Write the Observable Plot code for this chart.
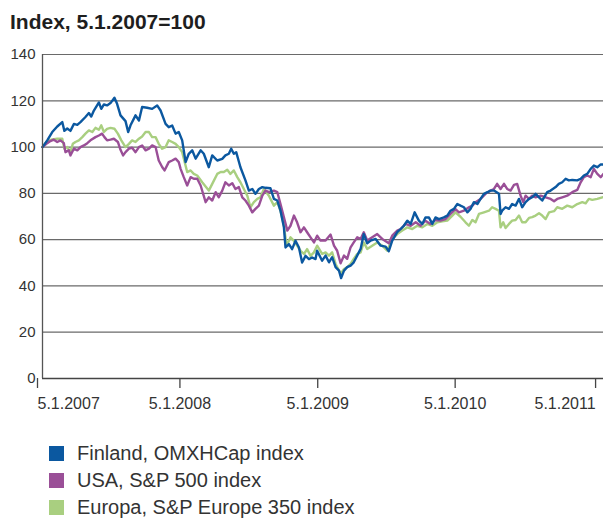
<!DOCTYPE html>
<html>
<head>
<meta charset="utf-8">
<script src="https://cdn.jsdelivr.net/npm/d3@7"></script>
<script src="https://cdn.jsdelivr.net/npm/@observablehq/plot@0.6"></script>
<style>
  html, body { margin: 0; padding: 0; background: #fff; overflow: hidden; }
  body { width: 603px; height: 518px; font-family: "Liberation Sans", Arial, Helvetica, sans-serif; color: #222; }
  #title { height: 40px; box-sizing: border-box; padding: 11px 0 0 10px; font-size: 21px; line-height: 1; font-weight: bold; color: #1e1e1e; }
  #chart svg { display: block; }
  #legend { padding: 20px 0 0 49px; }
  .row { display: flex; align-items: center; height: 27px; font-size: 20px; line-height: 27px; color: #333; }
  .sw { width: 15px; height: 15px; margin-right: 13px; flex: none; }
</style>
</head>
<body>
<div id="title">Index, 5.1.2007=100</div>
<div id="chart"></div>
<div id="legend"></div>
<script>
// Series names and colours
const seriesNames = ["Finland, OMXHCap index", "USA, S&P 500 index", "Europa, S&P Europe 350 index"];
const seriesColors = ["#0b58a0", "#9a4f97", "#a9cf80"];

// Time in weeks since 5.1.2007 and index values
const finlandWeeks = [0,1.8,3.7,5.6,7.5,8.3,9.4,10.6,11.9,13.2,14.4,16.3,17.6,18.5,19.5,21.4,22.3,23.3,24.5,25.8,27.3,28.3,29.6,31.5,32.5,33.4,35.3,36.6,37.8,39.7,41.6,43.5,44.8,46.7,47.9,49.2,50.5,51.7,53.0,54.3,55.5,56.8,58.1,60.0,61.2,63.1,64.4,66.3,68.2,69.4,70.7,71.6,72.6,73.5,75.1,77.0,78.3,79.6,80.8,82.1,83.4,84.6,86.5,87.8,89.1,90.3,91.6,92.2,93.5,94.7,96.0,97.3,98.5,99.8,101.1,102.3,103.6,104.2,106.1,107.4,108.7,109.9,111.2,112.5,113.3,114.4,115.6,116.9,118.1,119.4,120.7,121.9,123.2,124.5,126.4,128.3,130.2,131.4,132.7,134.6,135.9,137.1,138.4,139.7,141.2,142.8,144.1,145.3,146.6,147.9,149.1,150.4,152.3,153.6,154.8,156.1,157.4,158.6,159.9,161.2,162.4,163.7,165.0,166.2,167.5,168.8,170.0,171.3,173.2,173.8,174.4,175.7,177.0,178.2,179.5,180.8,182.0,183.3,184.6,185.8,187.1,188.4,189.6,191.5,192.8,194.7,195.9,197.2,198.5,199.7,201.0,202.9,204.2,205.4,206.7,208.0,209.2,210.5,211.8,212.8];
const finlandValues = [100,102.9,106.5,108.9,110.8,107,108,107,110,109.6,110.8,113,114.7,113.2,115.8,119.3,116.5,118.4,118,119,121.3,118.7,113.7,111.2,106.5,109.4,113.7,111.5,117.3,117,116.5,118,115.8,110,108.6,109.3,105.8,106.5,102.9,93.5,97.1,98.6,95,98.6,97.1,91.3,96.4,94.2,94.9,96.4,97.1,99.3,97.1,97.8,91.3,85.6,81.2,81.9,79.8,81.9,82.7,82.4,82.2,77.6,76.9,72.5,65.3,56.6,58.1,55.9,59.5,56.6,50.1,53,51.6,52.3,51.6,55.2,50.9,53.1,50.2,52.4,48.1,46.6,43.4,46.6,48.1,48.8,50.2,53.1,56,62.4,58.4,59.6,60.3,57.4,57,55,59.6,63.2,64.6,66,68.2,66.8,71.8,68.2,66.8,69.6,69.6,66.8,69.6,68.9,69.6,70.4,72.5,73.3,75.4,74.7,74,71.8,73.3,76.2,75.4,77.6,79.8,80.5,81.2,81.2,79.8,71.1,72.5,74,73.3,75.4,74.7,77.6,74,76.2,77.6,78.3,79.8,78.3,76.9,80.5,81.2,82.7,84.1,84.8,86.3,85.6,85.8,85.6,86.3,87.7,88.4,90.6,92,91.3,92.5,92.5];

const usaWeeks = [0,1.8,3.0,4.3,5.6,6.8,8.1,8.7,10.0,10.6,11.9,13.2,14.4,15.7,17.0,18.2,20.1,21.4,22.6,23.5,24.5,25.8,27.1,28.6,29.6,30.6,31.5,32.8,34.0,35.3,36.6,37.8,39.1,40.4,41.6,42.9,44.1,45.4,46.3,47.9,49.2,50.5,51.7,52.4,53.6,54.9,56.2,57.4,58.7,60.0,61.9,63.1,64.4,65.7,66.9,68.2,69.4,70.7,72.0,73.2,74.5,75.8,77.0,78.3,79.6,80.8,82.1,83.4,84.6,85.9,87.8,89.1,90.3,91.6,92.9,94.1,95.4,96.6,97.9,99.2,100.4,101.7,103.0,104.2,105.5,107.4,109.3,110.6,111.8,113.1,114.4,115.6,116.9,118.1,119.4,120.7,121.9,123.2,125.1,127.0,128.9,131.4,132.7,134.6,135.9,137.8,139.7,141.6,143.5,145.3,147.2,149.1,151.0,152.9,154.8,156.7,158.0,159.9,161.8,163.1,164.3,166.2,168.1,170.0,171.3,172.5,173.8,175.1,176.3,177.6,178.9,180.1,181.4,182.4,183.3,184.6,185.8,187.1,189.0,190.9,192.8,194.1,195.3,197.2,199.1,201.0,202.9,204.2,205.4,206.7,208.0,209.2,210.5,211.8,212.8];
const usaValues = [100,101.7,102.6,103.2,102.2,102.9,101.7,97.8,98.6,96.4,99.3,98.6,100,100.7,101.7,102.9,104.3,105,105.8,104.3,102.9,103.2,103.6,102.2,98.8,96.4,97.8,99.3,99.7,97.8,100,100.7,98.6,99.3,100.7,100,94.2,91.4,89.9,93.5,94.2,95,93.5,90.6,87,83.4,87,86.3,86.3,83.4,76.2,78.3,76.9,80.5,78.3,81.2,84.8,83.4,84.4,81.9,82.7,78.3,76.9,74.7,71.8,73.3,74.7,79,81.2,80.5,81.2,80.5,75.4,69.7,63.9,66,70.4,67.5,63.2,65.3,63.2,61,58.8,61.7,59.6,59.6,62.2,57.4,55.2,49.8,53.1,51.7,56.7,58.8,61,60.3,63.2,59.6,61,62.4,60.3,58.4,61.7,63.9,64.6,66.8,66,67.5,66,68.2,66.8,68.5,68.2,68.9,71.1,73.2,71.8,72.5,74,74.7,76.2,77.6,79.8,81.2,81.9,84.1,81.9,84.1,81.9,81.2,83.7,84.1,79,76.2,79,77.6,79,78.3,79,78.3,77.6,76.6,77.6,78.3,79,80.5,81.5,84.8,87,87.7,87,90.6,88.4,87,88.4];

const europeWeeks = [0,1.8,3.7,5.6,7.5,8.3,9.4,10.6,11.5,12.5,13.8,15.1,16.3,17.6,18.9,20.1,21.4,22.3,23.3,24.5,25.8,27.3,28.6,29.9,31.5,32.8,34.0,35.3,36.6,37.8,39.1,40.4,41.6,42.9,44.1,45.4,46.7,47.9,49.2,50.5,51.7,53.0,54.9,56.2,57.4,58.7,60.6,63.1,64.4,66.3,67.6,68.8,70.1,71.3,72.6,73.9,75.1,76.4,77.7,78.9,80.2,81.5,82.7,84.0,85.9,87.8,89.1,90.3,91.6,92.6,94.1,95.4,96.6,97.9,99.2,100.4,101.7,103.0,104.2,106.1,107.4,108.7,109.9,111.2,112.5,113.3,114.4,115.6,116.9,118.1,119.4,120.7,121.9,123.2,125.1,127.0,128.9,130.8,132.7,134.6,136.5,138.4,140.3,142.2,144.1,146.0,147.9,149.8,151.7,153.6,155.5,156.7,158.6,160.5,161.8,163.1,164.3,165.6,167.5,169.4,170.6,171.9,173.2,173.8,174.8,175.7,177.0,178.2,179.5,180.8,182.0,183.3,184.6,185.8,187.1,188.4,189.6,190.9,192.2,194.1,195.3,197.2,199.1,201.0,202.9,204.8,206.1,207.3,208.6,210.5,212.4];
const europeValues = [100,102.6,103.3,103.6,103.6,99.3,100,97.8,101.4,102.2,102.9,104.3,105.8,107.2,106.5,108.3,107.5,109.4,106.5,107.9,108.3,107.9,105.8,102.9,100,101.4,102.9,102.2,103.6,104.6,106.5,106.5,104.3,104.3,101.4,99.3,100,102.9,102.2,101.4,100,97.8,89.2,89.9,88.4,87.7,84.8,81.2,84.1,88.4,89.2,89.2,90.2,88.4,89.9,87,84.8,81.9,79,74,76.2,77.6,78.3,81.9,79,74.7,76.2,72.5,66,57.4,61,59.5,57.4,55.2,53.8,55.9,53,54.5,57.4,53.8,54.5,53.1,54.5,49.5,46.6,45.5,47.3,48.1,49.5,51.7,53.8,54.5,58.8,56,57.4,58.8,57.4,55.2,60.3,62.4,63.9,65.3,64.6,66,65.3,66.8,66,67.5,67.9,68.2,70.4,71.8,69.9,67.5,66,68.5,67.5,71.1,71.8,72.5,74,73.3,72.5,65.3,67.5,65,66.8,68.2,68.5,70.4,67.5,67.5,69.4,69.7,70.4,71.4,70.4,68.9,71.8,72.3,74,73.3,74.7,74,75.4,76.2,75.7,77.6,77.2,77.6,78.3];

// Axis settings
const xStart = "2007-01-05";
const xEnd = "2011-02-03";
const xTickDates = ["2007-01-05", "2008-01-05", "2009-01-05", "2010-01-05", "2011-01-05"];
const xTickLabels = ["5.1.2007", "5.1.2008", "5.1.2009", "5.1.2010", "5.1.2011"];
const yTicks = [0, 20, 40, 60, 80, 100, 120, 140];

const parse = s => new Date(s + "T00:00:00Z");
const t0 = parse(xStart).getTime();
const toDate = w => new Date(t0 + w * 7 * 864e5);

const weeksList = [finlandWeeks, usaWeeks, europeWeeks];
const valuesList = [finlandValues, usaValues, europeValues];
const rows = [];
seriesNames.forEach((name, i) => {
  weeksList[i].forEach((w, j) => rows.push({series: name, date: toDate(w), value: valuesList[i][j]}));
});

const ticks = xTickDates.map(parse);
const fmt = d => xTickLabels[ticks.findIndex(t => t.getTime() === d.getTime())];

const chart = Plot.plot({
  width: 603,
  height: 380,
  marginTop: 14,
  marginBottom: 42,
  marginLeft: 42,
  marginRight: 0,
  style: {fontFamily: '"Liberation Sans", Arial, Helvetica, sans-serif', background: "#fff", color: "#333", overflow: "visible"},
  x: {type: "utc", domain: [parse(xStart), parse(xEnd)]},
  y: {domain: [0, 140]},
  color: {domain: seriesNames, range: seriesColors},
  marks: [
    Plot.ruleY(yTicks.filter(d => d > 0), {stroke: "#6a6a6a", strokeWidth: 1.2}),
    Plot.line(rows.filter(r => r.series === seriesNames[2]), {x: "date", y: "value", stroke: "series", strokeWidth: 2.4, curve: "linear"}),
    Plot.line(rows.filter(r => r.series === seriesNames[1]), {x: "date", y: "value", stroke: "series", strokeWidth: 2.4, curve: "linear"}),
    Plot.line(rows.filter(r => r.series === seriesNames[0]), {x: "date", y: "value", stroke: "series", strokeWidth: 2.4, curve: "linear"}),
    Plot.ruleY([0], {stroke: "#444", strokeWidth: 1.3}),
    Plot.ruleX([parse(xStart)], {y1: 0, y2: 140, stroke: "#555", strokeWidth: 1.3}),
    Plot.axisY(yTicks, {tickSize: 0, tickPadding: 7, fontSize: 15, fill: "#333", label: null}),
    Plot.axisX([ticks[0]], {tickSize: 10, tickPadding: 9, tickFormat: fmt, fontSize: 16, fill: "#333", stroke: "#444", strokeWidth: 1.3, textAnchor: "start", dx: -5, label: null}),
    Plot.axisX(ticks.slice(1, 4), {tickSize: 10, tickPadding: 9, tickFormat: fmt, fontSize: 16, fill: "#333", stroke: "#444", strokeWidth: 1.3, label: null}),
    Plot.axisX([ticks[4]], {tickSize: 10, tickPadding: 9, tickFormat: fmt, fontSize: 16, fill: "#333", stroke: "#444", strokeWidth: 1.3, textAnchor: "end", dx: 3, label: null})
  ]
});
document.getElementById("chart").appendChild(chart);

const legend = document.getElementById("legend");
seriesNames.forEach((name, i) => {
  const row = document.createElement("div");
  row.className = "row";
  const sw = document.createElement("span");
  sw.className = "sw";
  sw.style.background = seriesColors[i];
  const tx = document.createElement("span");
  tx.textContent = name;
  row.appendChild(sw);
  row.appendChild(tx);
  legend.appendChild(row);
});
</script>
</body>
</html>
